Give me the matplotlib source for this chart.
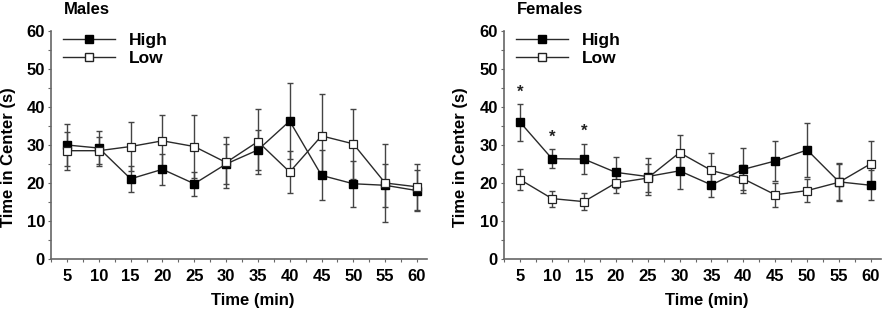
import matplotlib
matplotlib.use("Agg")
import matplotlib.pyplot as plt
from matplotlib.ticker import MultipleLocator
from matplotlib.lines import Line2D

plt.rcParams['font.family'] = ['Liberation Sans', 'DejaVu Sans']
plt.rcParams['font.weight'] = 'bold'

times = [5, 10, 15, 20, 25, 30, 35, 40, 45, 50, 55, 60]

males_high = [30.0, 29.2, 21.1, 23.6, 19.8, 25.0, 28.7, 36.3, 22.0, 19.8, 19.4, 18.0]
males_high_err = [5.5, 4.6, 3.5, 4.1, 3.2, 5.3, 5.3, 9.9, 6.6, 6.0, 5.7, 5.4]
males_low = [28.5, 28.5, 29.6, 31.1, 29.6, 25.4, 30.9, 22.9, 32.4, 30.3, 20.0, 19.0]
males_low_err = [5.0, 3.6, 6.5, 6.8, 8.3, 6.6, 8.6, 5.6, 10.9, 9.3, 10.2, 6.0]

females_high = [36.0, 26.4, 26.3, 22.8, 21.7, 23.2, 19.5, 23.6, 25.8, 28.7, 20.3, 19.4]
females_high_err = [4.9, 2.5, 4.0, 4.1, 4.8, 4.7, 3.1, 5.5, 5.3, 7.0, 4.8, 4.0]
females_low = [20.9, 15.9, 15.1, 20.0, 21.3, 28.0, 23.3, 21.1, 16.9, 18.0, 20.2, 25.1]
females_low_err = [2.7, 2.1, 2.2, 2.5, 3.7, 4.7, 4.5, 3.7, 3.1, 3.1, 5.0, 6.0]

star_times = [5, 10, 15]
star_values = [44.0, 32.0, 33.6]

titles = ["Males", "Females"]
legend_labels = ["High", "Low"]

fig = plt.figure(figsize=(8.86, 3.10), dpi=100)
ax1 = fig.add_axes([50.5/886, 51/310, 376/886, 228/310])
ax2 = fig.add_axes([503.5/886, 51/310, 377/886, 228/310])

line_col = '#2a2a2a'
err_col = '#444444'
FS = 12

def draw(ax, hi, hie, lo, loe, title):
    ax.errorbar(times, lo, yerr=loe, fmt='none', ecolor=err_col, elinewidth=1.0,
                capsize=2, capthick=1.0, zorder=2)
    ax.errorbar(times, hi, yerr=hie, fmt='none', ecolor=err_col, elinewidth=1.0,
                capsize=2, capthick=1.0, zorder=2)
    ax.plot(times, hi, color=line_col, lw=1.0, marker='s', ms=6.3,
            mfc='black', mec='black', zorder=3)
    ax.plot(times, lo, color=line_col, lw=1.0, marker='s', ms=6.3,
            mfc='white', mec='#222222', mew=0.9, zorder=4)
    ax.set_xlim(2.4, 61.5)
    ax.set_ylim(0, 60)
    ax.set_xticks(times)
    ax.xaxis.set_minor_locator(MultipleLocator(2.5))
    ax.yaxis.set_major_locator(MultipleLocator(10))
    ax.yaxis.set_minor_locator(MultipleLocator(5))
    for s in ['top', 'right']:
        ax.spines[s].set_visible(False)
    for s in ['left', 'bottom']:
        ax.spines[s].set_color('#666666')
        ax.spines[s].set_linewidth(1.2)
    ax.tick_params(which='both', direction='out', length=2.5, width=0.8,
                   color='#666666', labelsize=FS)
    ax.tick_params(axis='x', which='major', pad=5)
    ax.tick_params(axis='y', which='major', pad=1.5)
    ax.set_xlabel("Time (min)", fontsize=FS, fontweight='bold')
    ax.set_ylabel("Time in Center (s)", fontsize=FS, fontweight='bold')
    ax.xaxis.set_label_coords(0.538, -0.18)
    ax.yaxis.set_label_coords(-0.113, 0.447)
    ax.xaxis.label.set_va('center')
    ax.yaxis.label.set_va('center')
    ax.text(0.035, 1.095, title, transform=ax.transAxes, fontsize=FS,
            fontweight='bold', ha='left', va='center')
    handles = [
        Line2D([], [], color=line_col, lw=1.0, marker='s', ms=6.3, mfc='black', mec='black'),
        Line2D([], [], color=line_col, lw=1.0, marker='s', ms=6.3, mfc='white', mec='#222222'),
    ]
    ax.legend(handles, legend_labels, loc='upper left', bbox_to_anchor=(0.0, 1.045),
              frameon=False, handlelength=3.0, handletextpad=0.8,
              labelspacing=0.15, borderaxespad=0.3, prop={'weight': 'bold', 'size': 12.5})

draw(ax1, males_high, males_high_err, males_low, males_low_err, titles[0])
draw(ax2, females_high, females_high_err, females_low, females_low_err, titles[1])

for t, v in zip(star_times, star_values):
    ax2.text(t, v, "*", ha='center', va='center', fontsize=12, fontweight='bold', color='#222222')

fig.savefig("out.png", dpi=100)
